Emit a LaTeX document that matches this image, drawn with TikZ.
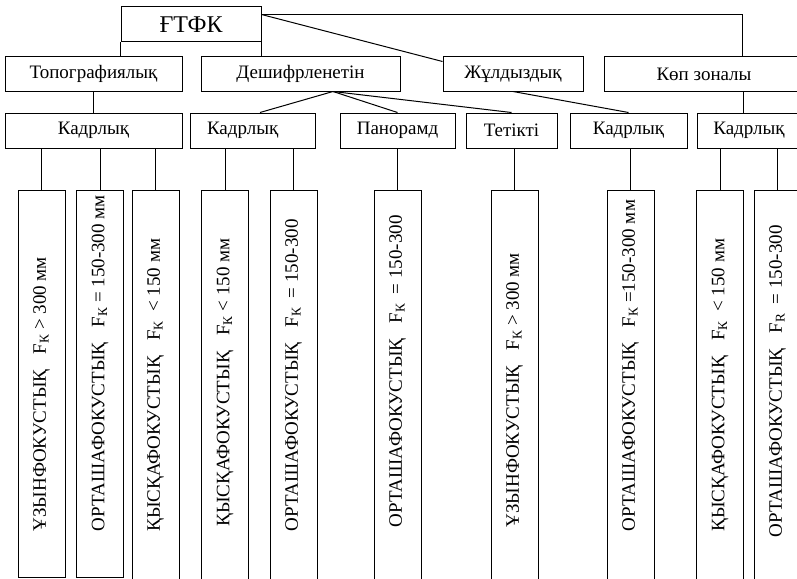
\documentclass[tikz,border=0pt]{standalone}
\usepackage{fontspec}
\setmainfont{Liberation Serif}
\usetikzlibrary{positioning}

\begin{document}
\begin{tikzpicture}[x=1pt, y=-1pt, line width=1pt,
  every node/.style={font=\fontsize{19}{22}\selectfont},
  box/.style={draw, rectangle, minimum height=34pt, inner sep=0pt},
  tallbox/.style={draw, rectangle, anchor=north, minimum width=47pt, minimum height=387pt, inner sep=0pt},
  openbox/.style={tallbox, minimum height=400pt},
  vlabel/.style={rotate=90, anchor=west, inner sep=0pt}]
  \clip (0,0) rectangle (797,578);

  % Root
  \node[box, minimum width=140pt, minimum height=35pt, font=\fontsize{24}{26}\selectfont] (root) at (191,24.5) {ҒТФК};

  % First level
  \node[box, minimum width=177pt] (topo) at (93.5,74) {Топографиялық};
  \node[box, minimum width=199pt] (desh) at (300.5,74) {Дешифрленетін};
  \node[box, minimum width=140pt] (zhul) at (513,74) {Жұлдыздық};
  \node[box, minimum width=200pt] (kop) at (704,74) {Көп зоналы};

  % Second level
  \node[box, minimum width=177pt, minimum height=35pt] (kadrA) at (93.5,130.5) {Кадрлық};
  \node[box, minimum width=125pt, minimum height=35pt, text width=91pt, align=left] (kadrB) at (252.5,130.5) {Кадрлық};
  \node[box, minimum width=115pt, minimum height=35pt] (pan) at (397.5,130.5) {Панорамд};
  \node[box, minimum width=91pt, minimum height=35pt] (tet) at (511.5,130.5) {Тетікті};
  \node[box, minimum width=117pt, minimum height=35pt] (kadrC) at (628.5,130.5) {Кадрлық};
  \node[box, minimum width=104pt, minimum height=35pt] (kadrD) at (749,130.5) {Кадрлық};

  % Focal length boxes
  \node[tallbox] (t1) at (41.5,190) {};
  \node[tallbox] (t2) at (100,190) {};
  \node[openbox] (t3) at (155.5,190) {};
  \node[openbox] (t4) at (225,190) {};
  \node[openbox] (t5) at (293.5,190) {};
  \node[openbox] (t6) at (397.5,190) {};
  \node[openbox] (t7) at (514.5,190) {};
  \node[openbox] (t8) at (630.5,190) {};
  \node[openbox] (t9) at (720,190) {};
  \node[openbox] (t10) at (777.5,190) {};

  % Vertical labels
  \node[vlabel] (l1) at ([yshift=-342pt]t1.north) {ҰЗЫНФОКУСТЫҚ\hspace{0.8em}F\textsubscript{К} > 300 мм};
  \node[vlabel] (l2) at ([yshift=-342pt]t2.north) {ОРТАШАФОКУСТЫҚ\hspace{0.8em}F\textsubscript{К} = 150-300 мм};
  \node[vlabel] (l3) at ([yshift=-342pt]t3.north) {ҚЫСҚАФОКУСТЫҚ\hspace{0.8em}F\textsubscript{К}\ \ < 150 мм};
  \node[vlabel] (l4) at ([yshift=-337pt]t4.north) {ҚЫСҚАФОКУСТЫҚ\hspace{0.8em}F\textsubscript{К} < 150 мм};
  \node[vlabel] (l5) at ([yshift=-342pt]t5.north) {ОРТАШАФОКУСТЫҚ\hspace{0.8em}F\textsubscript{К}\ \ = 150-300};
  \node[vlabel] (l6) at ([yshift=-338pt]t6.north) {ОРТАШАФОКУСТЫҚ\hspace{0.8em}F\textsubscript{К}\ \ = 150-300};
  \node[vlabel] (l7) at ([yshift=-338pt]t7.north) {ҰЗЫНФОКУСТЫҚ\hspace{0.8em}F\textsubscript{К} > 300 мм};
  \node[vlabel] (l8) at ([yshift=-342pt]t8.north) {ОРТАШАФОКУСТЫҚ\hspace{0.8em}F\textsubscript{К} =150-300 мм};
  \node[vlabel] (l9) at ([yshift=-342pt]t9.north) {ҚЫСҚАФОКУСТЫҚ\hspace{0.8em}F\textsubscript{К}\ \ < 150 мм};
  \node[vlabel] (l10) at ([yshift=-348pt]t10.north) {ОРТАШАФОКУСТЫҚ\hspace{0.8em}F\textsubscript{R}\ \ = 150-300};

  % Root connectors
  \draw (root.south west) -- (root.south west |- topo.north);
  \draw (root.south east) -- (root.south east |- desh.north);
  \draw ([yshift=-8pt]root.north east) -| ([xshift=38pt]kop.north);
  \draw ([yshift=-8pt]root.north east) -- ([yshift=-5pt]zhul.north west);

  % First to second level
  \draw (topo.south) -- (kadrA.north);
  \draw ([xshift=32.5pt]desh.south) -- ([xshift=7.5pt]kadrB.north);
  \draw ([xshift=32.5pt]desh.south) -- (pan.north);
  \draw ([xshift=32.5pt]desh.south) -- (tet.north);
  \draw (zhul.south) -- (kadrC.north);
  \draw ([xshift=39pt]kop.south) -- ([xshift=39pt]kop.south |- kadrD.north);

  % Second level to focal boxes
  \draw (t1.north |- kadrA.south) -- (t1.north);
  \draw (t2.north |- kadrA.south) -- (t2.north);
  \draw (t3.north |- kadrA.south) -- (t3.north);
  \draw (t4.north |- kadrB.south) -- (t4.north);
  \draw (t5.north |- kadrB.south) -- (t5.north);
  \draw (pan.south) -- (t6.north);
  \draw (t7.north |- tet.south) -- (t7.north);
  \draw (t8.north |- kadrC.south) -- (t8.north);
  \draw (t9.north |- kadrD.south) -- (t9.north);
  \draw (t10.north |- kadrD.south) -- (t10.north);
\end{tikzpicture}
\end{document}
